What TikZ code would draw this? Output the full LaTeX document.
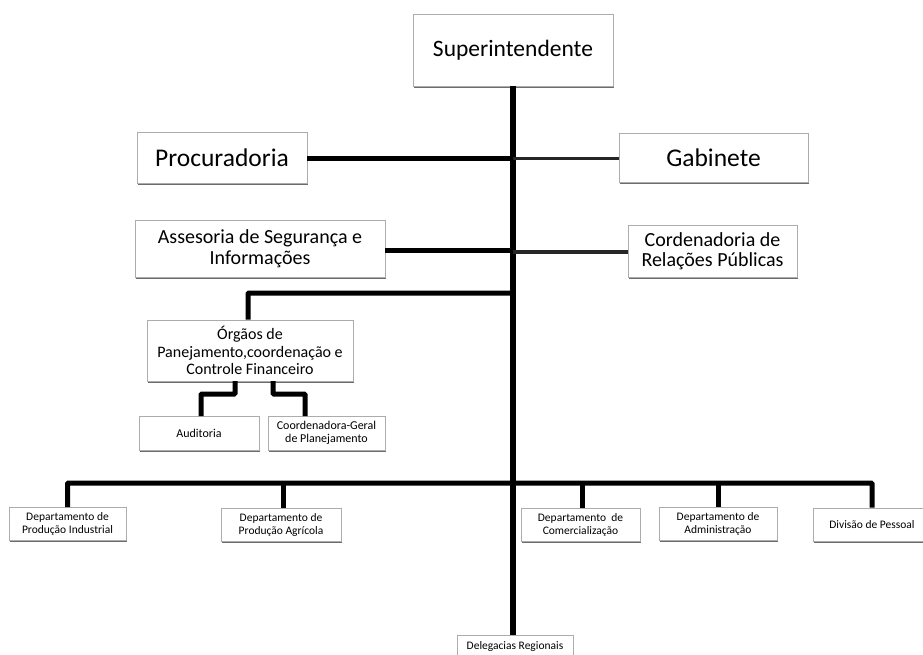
\documentclass[tikz,border=0pt]{standalone}
\usepackage{fontspec}
\setmainfont{Carlito}
\usetikzlibrary{shadows}
\begin{document}
\begin{tikzpicture}[x=1pt,y=-1pt,
  box/.style={draw=gray!65, line width=0.9pt, fill=white, inner sep=0pt, align=center,
    drop shadow={shadow xshift=1.2pt, shadow yshift=-1.6pt, fill=gray!85!black, opacity=1}},
  big/.style={font=\fontsize{23.5}{26}\selectfont},
  bigger/.style={font=\fontsize{25.5}{28}\selectfont},
  mid/.style={font=\fontsize{20}{20.5}\selectfont},
  sm/.style={font=\fontsize{16}{17.5}\selectfont},
  tiny/.style={font=\fontsize{11.5}{13}\selectfont},
  small/.style={font=\fontsize{12}{13.5}\selectfont},
  conn/.style={line width=5pt, black},
  thin/.style={line width=3.5pt, black!85},
  main/.style={line width=6.5pt, black}]
\clip (0,0) rectangle (923,655);
\useasboundingbox (0,0) rectangle (923,655);
\fill[white] (0,0) rectangle (923,655);

\node[box, big, minimum width=200, minimum height=72] (sup) at (513,50) {Superintendente};
\node[box, bigger, minimum width=170, minimum height=51] (proc) at (222,157.5) {Procuradoria};
\node[box, bigger, minimum width=189, minimum height=49] (gab) at (713.5,157.5) {Gabinete};
\node[box, mid, minimum width=250, minimum height=57] (ass) at (260,248.5) {Assesoria de Segurança e\\Informações};
\node[box, mid, minimum width=169, minimum height=52] (cord) at (712.5,251) {Cordenadoria de\\Relações Públicas};
\node[box, sm, minimum width=206, minimum height=61] (org) at (250,350.5) {Órgãos de\\Panejamento,coordenação e\\Controle Financeiro};
\node[box, small, minimum width=120, minimum height=34] (aud) at (199,433) {Auditoria};
\node[box, small, minimum width=117, minimum height=34] (cgp) at (326.5,433) {Coordenadora-Geral\\de Planejamento};

\node[box, tiny, minimum width=117, minimum height=33] (dpi) at (67.5,524) {Departamento de\\Produção Industrial};
\node[box, tiny, minimum width=120, minimum height=33] (dpa) at (281,525) {Departamento de\\Produção Agrícola};
\node[box, tiny, minimum width=119, minimum height=33] (dc) at (580.5,525) {Departamento~~de\\Comercialização};
\node[box, tiny, minimum width=118, minimum height=33] (da) at (718,523.5) {Departamento de\\Administração};
\node[box, tiny, minimum width=118, minimum height=33] (dvp) at (872,524.5) {Divisão de~Pessoal};
\node[box, tiny, minimum width=116, minimum height=34, anchor=north] (dr) at (515,635) {};
\node[tiny, anchor=base] (drt) at (515,649) {Delegacias Regionais};

\coordinate (bus) at (0,483);

% main trunk
\draw[main] (sup.south -| 513,0) -- (dr.north -| 513,0);
% level 2
\draw[conn] (proc.east |- 0,158.5) -- (513,158.5);
\draw[thin] (513,158.5) -- (gab.west |- 0,158.5);
\draw[conn] (ass.east |- 0,250) -- (513,250);
\draw[thin] (513,252) -- (cord.west |- 0,252);
% orgaos
\draw[conn, rounded corners=1pt] (513,293) -- (248,293) -- (248,293 |- org.north);
\draw[conn, rounded corners=1pt] (235,381) |- (201,394) -- (201,416);
\draw[conn, rounded corners=1pt] (273,381) |- (305,394) -- (305,416);
% bottom bus
\draw[conn, rounded corners=1pt] (dpi.north) -- (dpi.north |- bus) -- (dvp.north |- bus) -- (dvp.north);
\draw[conn] (dpa.north -| 283,0) -- (283,483);
\draw[conn] (582,483) -- (dc.north -| 582,0);
\draw[conn] (718,483) -- (da.north);
\end{tikzpicture}
\end{document}
